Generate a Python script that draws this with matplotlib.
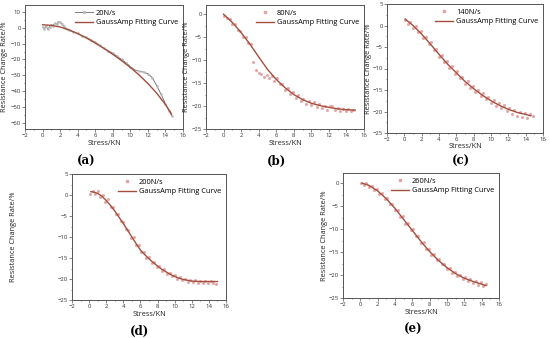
import matplotlib
matplotlib.use("Agg")
import matplotlib.pyplot as plt
from matplotlib.ticker import MultipleLocator

plt.rcParams['font.family'] = ['Open Sans', 'DejaVu Sans']

# ---------------- data ----------------
labels = ["20N/s", "80N/s", "140N/s", "200N/s", "260N/s"]
panel_tags = ["(a)", "(b)", "(c)", "(d)", "(e)"]

# (a) 20N/s
a_x = [0, 0.2, 0.4, 0.6, 0.8, 1.0, 1.2, 1.4, 1.6, 1.8, 2.0, 2.2, 2.4, 2.6, 2.8, 3.0, 3.5, 4.0, 4.5, 5.0,
       5.5, 6.0, 6.5, 7.0, 7.5, 8.0, 8.5, 9.0, 9.5, 10.0, 10.5, 11.0, 11.5, 12.0, 12.5, 13.0, 13.5, 14.0, 14.4, 14.7]
a_y = [0.5, -0.5, 1.0, -1.0, 0.8, 2.0, 1.5, 3.0, 2.5, 4.0, 3.5, 2.5, 1.0, 0.0, -1.0, -1.5, -2.5, -3.5, -5.0, -6.0,
       -7.5, -9.0, -11.0, -13.0, -14.5, -16.0, -18.0, -20.0, -22.0, -24.5, -26.5, -27.5, -28.0, -29.0, -31.5, -36.5, -42.0, -48.0, -52.5, -55.5]
a_fx = [0, 1, 2, 3, 4, 5, 6, 7, 8, 9, 10, 11, 12, 13, 14, 14.7]
a_fy = [2, 1.6, 0.6, -1.2, -3.6, -6.4, -9.6, -13, -16.7, -20.7, -25, -29.8, -35.2, -41.3, -48.5, -54.5]

sx = [0.1, 0.4, 0.7, 1.0, 1.3, 1.6, 1.9, 2.2, 2.5, 2.8, 3.1, 3.4, 3.7, 4.0, 4.3, 4.6, 4.9, 5.2, 5.5, 5.8,
      6.1, 6.4, 6.7, 7.0, 7.3, 7.6, 7.9, 8.2, 8.5, 8.8, 9.1, 9.4, 9.7, 10.0, 10.3, 10.6, 10.9, 11.2, 11.5, 11.8,
      12.1, 12.4, 12.7, 13.0, 13.3, 13.6, 13.9, 14.2, 14.5, 14.8]

# (b) 80N/s
b_y = [-0.3, -0.9, -1.0, -2.2, -2.1, -3.5, -3.6, -4.9, -5.0, -6.3, -6.6, -10.5, -12.2, -12.8, -13.0, -13.6, -13.2, -13.9, -13.4, -14.5,
       -14.0, -15.1, -15.3, -16.4, -16.0, -17.3, -17.0, -18.2, -17.6, -18.9, -18.4, -19.5, -18.9, -19.8, -19.2, -20.3, -19.6, -20.5, -19.9, -20.8,
       -20.1, -20.0, -20.9, -20.4, -21.1, -20.6, -21.0, -20.7, -21.1, -20.8]
b_fx = [0, 1, 2, 3, 4, 5, 6, 7, 8, 9, 10, 11, 12, 13, 14, 15]
b_fy = [0, -1.8, -4, -6.5, -9.3, -12, -14.2, -16, -17.5, -18.6, -19.4, -19.9, -20.3, -20.6, -20.8, -20.9]

# (c) 140N/s
c_y = [1.2, 0.4, 0.9, -0.6, -0.2, -1.5, -1.2, -2.9, -2.6, -4.2, -3.9, -5.6, -5.5, -7.3, -6.8, -8.6, -8.2, -9.9, -9.5, -11.2,
       -10.6, -12.3, -11.9, -13.6, -12.9, -14.5, -14.0, -15.4, -14.9, -16.4, -15.7, -17.2, -16.6, -18.1, -17.4, -18.8, -18.0, -19.3, -18.6, -19.9,
       -19.1, -20.5, -19.6, -21.0, -20.0, -21.2, -20.4, -21.5, -20.6, -21.1]
c_fx = [0.1, 1, 2, 3, 4, 5, 6, 7, 8, 9, 10, 11, 12, 13, 14, 14.6]
c_fy = [1.5, 0, -2, -4.3, -6.7, -9, -11, -13, -14.7, -16.2, -17.5, -18.6, -19.5, -20.2, -20.7, -21]

# (d) 200N/s
d_y = [0.3, 1.0, 0.2, 0.9, -0.4, 0.1, -1.6, -1.0, -2.9, -2.8, -4.5, -4.6, -6.3, -6.4, -8.2, -8.3, -10.3, -10.0, -12.0, -11.8,
       -13.6, -13.5, -15.0, -14.8, -16.1, -15.9, -17.1, -16.8, -18.0, -17.7, -18.7, -18.5, -19.4, -19.0, -19.9, -19.5, -20.3, -19.9, -20.6, -20.2,
       -20.8, -20.3, -20.9, -20.4, -20.9, -20.4, -20.9, -20.5, -20.9, -21.3]
d_fx = [0.2, 0.5, 1, 1.5, 2, 2.5, 3, 3.5, 4, 4.5, 5, 5.5, 6, 6.5, 7, 7.5, 8, 8.5, 9, 9.5, 10, 10.5, 11, 12, 13, 14, 15]
d_fy = [0.8, 0.7, 0.4, -0.3, -1.3, -2.5, -3.8, -5.3, -6.8, -8.4, -10, -11.6, -13.1, -14.2, -15.2, -16.1, -16.9, -17.7, -18.3, -18.9,
        -19.4, -19.8, -20.1, -20.5, -20.6, -20.6, -20.6]

# (e) 260N/s
e_y = [0.1, -0.4, 0.0, -0.9, -0.6, -1.6, -1.2, -2.3, -2.2, -3.4, -3.2, -4.6, -4.5, -5.9, -5.8, -7.3, -7.2, -8.8, -8.6, -10.2,
       -10.0, -11.6, -11.5, -13.0, -12.9, -14.3, -14.3, -15.6, -15.5, -16.8, -16.6, -17.7, -17.6, -18.7, -18.4, -19.5, -19.3, -20.2, -19.9, -20.8,
       -20.4, -21.3, -20.9, -21.7, -21.3, -22.1, -21.6, -22.4, -22.0]
e_fx = [0.2, 1, 2, 3, 4, 5, 6, 7, 8, 9, 10, 11, 12, 13, 14, 14.5]
e_fy = [0, -0.5, -1.7, -3.4, -5.5, -7.9, -10.3, -12.7, -14.9, -16.8, -18.4, -19.7, -20.7, -21.4, -22, -22.3]

scatter_x = [a_x, sx, sx, sx, sx[:len(e_y)]]
scatter_y = [a_y, b_y, c_y, d_y, e_y]
fit_x = [a_fx, b_fx, c_fx, d_fx, e_fx]
fit_y = [a_fy, b_fy, c_fy, d_fy, e_fy]
ylims = [(-64, 14.5), (-25, 2), (-25, 5), (-25, 5), (-25, 2.2)]
ysteps = [10, 5, 5, 5, 5]

# ---------------- layout (figure fractions) ----------------
W, H = 550, 338
boxes = [(25, 5, 183, 129), (206, 5, 364, 129), (387, 4, 543, 133), (72, 174, 226, 300), (343, 173, 499, 298)]
ylab_x = [5, 186, 369, 14, 325]
xlab_y = [143, 144, 146, 314, 313]
tag_pos = [(86, 161), (276, 161), (461, 161), (140, 331), (413, 329)]

fit_color = '#a34f3e'
pt_color = '#e4a3a3'
spine_color = '#555555'

fig = plt.figure(figsize=(W / 100, H / 100), dpi=100)

for i in range(5):
    l, t, r, b = boxes[i]
    ax = fig.add_axes([l / W, 1 - b / H, (r - l) / W, (b - t) / H])
    if i == 0:
        ax.plot(scatter_x[i], scatter_y[i], color='#666666', lw=0.6, marker='s', ms=0.8,
                mfc='#bbbbbb', mec='#bbbbbb', label=labels[i], zorder=2)
    else:
        ax.plot(scatter_x[i], scatter_y[i], ls='none', marker='s', ms=1.0, color=pt_color,
                mec=pt_color, label=labels[i], zorder=2)
    ax.plot(fit_x[i], fit_y[i], color=fit_color, lw=1.0, label='GaussAmp Fitting Curve', zorder=3)
    ax.set_xlim(-2, 16)
    ax.set_ylim(*ylims[i])
    ax.xaxis.set_major_locator(MultipleLocator(2))
    ax.xaxis.set_minor_locator(MultipleLocator(1))
    ax.yaxis.set_major_locator(MultipleLocator(ysteps[i]))
    ax.yaxis.set_minor_locator(MultipleLocator(ysteps[i] / 2))
    ax.tick_params(which='both', direction='out', labelsize=4.3, pad=1, color=spine_color,
                   width=0.5, labelcolor='#333333')
    ax.tick_params(which='major', length=2)
    ax.tick_params(which='minor', length=1)
    for sp in ax.spines.values():
        sp.set_color(spine_color)
        sp.set_linewidth(0.7)
    ax.legend(loc='upper right', frameon=False, fontsize=5.3, handlelength=2.4,
              handletextpad=0.4, borderaxespad=0.25, labelspacing=0.3, markerscale=1.5)
    fig.text(ylab_x[i] / W, 1 - ((t + b) / 2) / H, 'Resistance Change Rate/%', rotation=90,
             ha='center', va='center', fontsize=5.3, color='#222222')
    fig.text(((l + r) / 2) / W, 1 - xlab_y[i] / H, 'Stress/KN', ha='center', va='center',
             fontsize=5.3, color='#222222')
    tx, ty = tag_pos[i]
    fig.text(tx / W, 1 - ty / H, panel_tags[i], ha='center', va='center', fontsize=8.5,
             family='DejaVu Serif', fontweight='bold')

fig.savefig('out.png', dpi=100)
